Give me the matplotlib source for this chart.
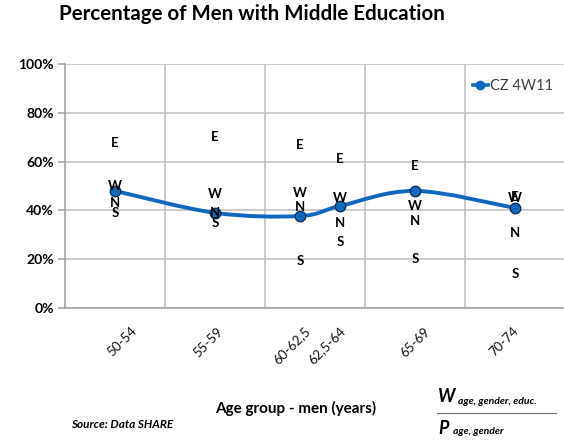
import numpy as np
import matplotlib
matplotlib.use("Agg")
import matplotlib.pyplot as plt
from matplotlib.lines import Line2D
from matplotlib.path import Path
from matplotlib.patches import PathPatch
import matplotlib.transforms as mtransforms

plt.rcParams['font.family'] = ['Lato', 'DejaVu Sans']

# Age groups, their mid-point ages and the share of men with middle education
age_groups = ["50-54", "55-59", "60-62,5", "62,5-64", "65-69", "70-74"]
age_mid = [52.0, 57.0, 61.25, 63.25, 67.0, 72.0]
cz_share = [48.0, 39.0, 37.7, 41.8, 48.0, 41.0]

# Regional values (East, West, North, South) per age group
east = [67.6, 70.0, 66.8, 61.0, 58.0, 45.5]
west = [50.0, 46.7, 47.0, 45.0, 41.8, 45.0]
north = [43.0, 39.0, 41.4, 35.0, 35.7, 30.7]
south = [39.0, 35.0, 19.3, 27.0, 20.0, 14.0]

y_ticks = [0, 20, 40, 60, 80, 100]
series_name = "CZ 4W11"
blue = "#1068BE"
grid_col = "#BFBFBF"

W, H = 564, 441
fig = plt.figure(figsize=(W / 100, H / 100), dpi=100)
ax = fig.add_axes([65 / W, 1 - 308 / H, (W - 65) / W, (308 - 64) / H])

ax.set_xlim(49.5, 74.45)
ax.set_ylim(0, 100)

# grid
ax.set_yticks(y_ticks)
ax.set_yticklabels([f"{v}%" for v in y_ticks], fontsize=10, fontweight="bold")
ax.yaxis.grid(True, color=grid_col, lw=1.1)
for gx in [54.5, 59.5, 64.5, 69.5]:
    ax.axvline(gx, color=grid_col, lw=1.1, zorder=0)
ax.set_axisbelow(True)
for s in ["top", "right"]:
    ax.spines[s].set_visible(False)
for s in ["left", "bottom"]:
    ax.spines[s].set_color("#A0A0A0")
    ax.spines[s].set_linewidth(1.1)
ax.tick_params(axis="y", length=5, color="#A0A0A0", width=1.1, pad=3)

# x tick labels, rotated
ax.set_xticks(age_mid)
ax.set_xticklabels([])
ax.tick_params(axis="x", length=0)
offsets = [16, 2, 4, -1, 9, -3]
for xm, lab, off in zip(age_mid, age_groups, offsets):
    tr = mtransforms.blended_transform_factory(ax.transData, ax.transAxes) + \
        mtransforms.ScaledTranslation(off / 100, -17 / 100, fig.dpi_scale_trans)
    ax.text(xm, 0, lab, transform=tr, rotation=45, ha="right", va="top",
            rotation_mode="anchor", fontsize=9.5, color="#111111")

# smoothed line (Catmull-Rom style Bezier in display space)
fig.canvas.draw()
pts = ax.transData.transform(np.column_stack([age_mid, cz_share]))
n = len(pts)
verts = [pts[0]]
codes = [Path.MOVETO]
for i in range(n - 1):
    p0 = pts[i - 1] if i > 0 else pts[i]
    p1 = pts[i]
    p2 = pts[i + 1]
    p3 = pts[i + 2] if i + 2 < n else pts[i + 1]
    c1 = p1 + (p2 - p0) / 6.0
    c2 = p2 - (p3 - p1) / 6.0
    verts += [c1, c2, p2]
    codes += [Path.CURVE4] * 3
path = Path(np.array(verts), codes)
ax.add_patch(PathPatch(path, transform=None, facecolor="none",
                       edgecolor=blue, lw=2.8, zorder=3, capstyle="round"))
ax.plot(age_mid, cz_share, ls="none", marker="o", ms=7.6, mfc=blue,
        mec="#0A2A4A", mew=0.9, zorder=4)

# regional letters
for xs, ys, letter in [(age_mid, east, "E"), (age_mid, west, "W"),
                       (age_mid, north, "N"), (age_mid, south, "S")]:
    for xv, yv in zip(xs, ys):
        ax.text(xv, yv, letter, ha="center", va="center", fontsize=9.5,
                fontweight="bold", color="#000000", zorder=5)

# legend
leg_handle = Line2D([0], [0], color=blue, lw=2.6, marker="o", ms=6,
                    mfc=blue, mec=blue)
leg = ax.legend([leg_handle], [series_name], loc="upper right",
                bbox_to_anchor=(0.995, 0.975), frameon=False, fontsize=10.5,
                handlelength=1.0, handletextpad=0.15, borderpad=0.1)
for t in leg.get_texts():
    t.set_color("#404040")

# title and annotations
fig.text(252 / W, 1 - 14 / H, "Percentage of Men with Middle Education",
         ha="center", va="center", fontsize=14.8, fontweight="bold")
fig.text(296 / W, 1 - 408 / H, "Age group - men (years)", ha="center",
         va="center", fontsize=11, fontweight="bold")
fig.text(71 / W, 1 - 425 / H, "Source: Data SHARE", ha="left", va="center",
         fontsize=8.5, fontweight="bold", style="italic")

fig.text(438 / W, 1 - 397 / H, "W", ha="left", va="center", fontsize=13,
         fontweight="bold", style="italic")
fig.text(458 / W, 1 - 401 / H, "age, gender, educ.", ha="left", va="center",
         fontsize=7.5, fontweight="bold", style="italic")
fig.add_artist(Line2D([437 / W, 556 / W], [1 - 413 / H, 1 - 413 / H],
                      color="#707070", lw=0.8, transform=fig.transFigure))
fig.text(438 / W, 1 - 429 / H, "P", ha="left", va="center", fontsize=13,
         fontweight="bold", style="italic")
fig.text(453 / W, 1 - 432 / H, "age, gender", ha="left", va="center",
         fontsize=7.5, fontweight="bold", style="italic")

fig.savefig("out.png", dpi=100)
